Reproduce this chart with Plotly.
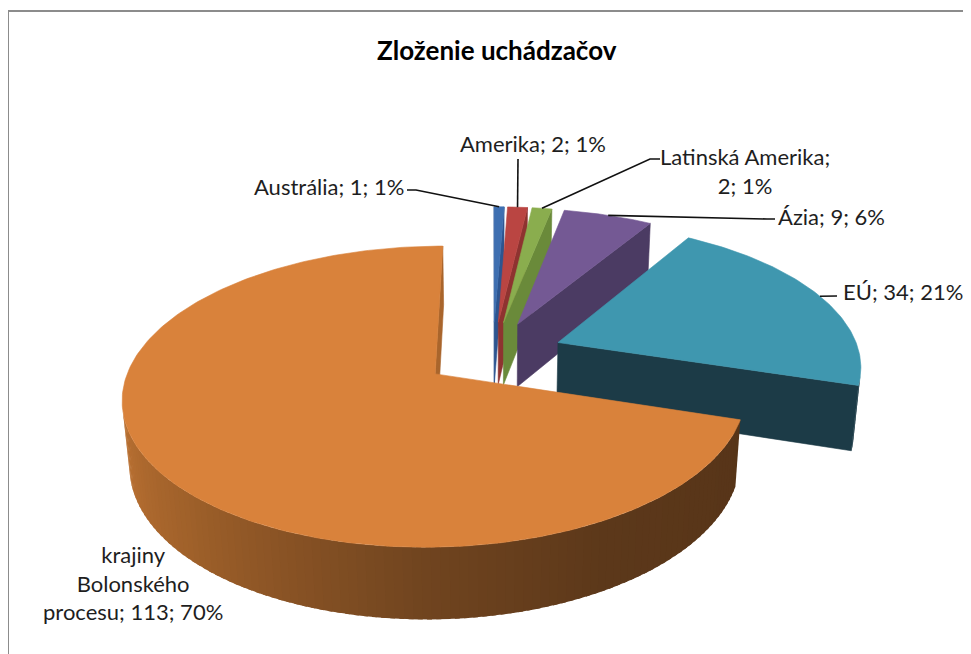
import numpy as np
import plotly.graph_objects as go

# ---------------- data ----------------
categories = ["Austrália", "Amerika", "Latinská Amerika", "Ázia", "EÚ",
              "krajiny Bolonského procesu"]
values = [1, 2, 2, 9, 34, 113]
label_names = ["Austrália", "Amerika", "Latinská Amerika", "Ázia", "EÚ",
               "krajiny<br>Bolonského<br>procesu"]
label_breaks = [" ", " ", "<br>", " ", " ", " "]
title_text = "Zloženie uchádzačov"

# ---------------- style ----------------
top_colors = ["#3E6FB1", "#BA4542", "#8AAD4E", "#745994", "#3F97AF", "#D9823B"]
side_colors = ["#2D5590", "#8E3330", "#6A8A3A", "#4B3B63", "#1C3B47", "#A9652C"]
orange_wall_stops = [(100, (86, 52, 24)), (150, (92, 56, 26)), (180, (112, 68, 31)),
                     (225, (160, 97, 42)), (270, (198, 120, 54))]

# 3D projection parameters (pixel space)
CX, CY, K = 493.0, 354.0, 301.7
S_PHI, C_PHI = 0.468, 0.884
DIST = 5.97
THICK = 0.244
EXPLODE = 0.233
CAM = np.array([0.0, -DIST * C_PHI, DIST * S_PHI])

PAGE_OFF = 8  # browser body margin


def project(X, Y, Z):
    up = Y * S_PHI + Z * C_PHI
    depth = Y * C_PHI - Z * S_PHI
    sc = 1.0 / (1.0 + depth / DIST)
    return CX + K * X * sc, CY - K * up * sc


def visible(normal, point):
    return float(np.dot(normal, CAM - np.asarray(point))) > 0


def wall_color(theta, idx):
    if idx != 5:
        return side_colors[idx]
    t = theta % 360
    angs = [a for a, _ in orange_wall_stops]
    cols = np.array([c for _, c in orange_wall_stops], dtype=float)
    rgb = [np.interp(t, angs, cols[:, k]) for k in range(3)]
    return "rgb(%d,%d,%d)" % tuple(int(round(v)) for v in rgb)


total = float(sum(values))
fracs = [v / total for v in values]
cum = np.concatenate([[0.0], np.cumsum(fracs)]) * 360.0

fig = go.Figure()


def add_poly(pts3d, color, lw=0.6):
    xs, ys = [], []
    for X, Y, Z in pts3d:
        x, y = project(X, Y, Z)
        xs.append(x)
        ys.append(y)
    xs.append(xs[0])
    ys.append(ys[0])
    fig.add_trace(go.Scatter(x=xs, y=ys, mode="lines", fill="toself",
                             fillcolor=color,
                             line=dict(color=color, width=lw),
                             hoverinfo="skip", showlegend=False))


slices = []
for i, v in enumerate(values):
    a0, a1 = cum[i], cum[i + 1]
    m = 0.5 * (a0 + a1)
    mr = np.radians(m)
    ox, oy = EXPLODE * np.sin(mr), EXPLODE * np.cos(mr)
    cy_ = oy + 0.5 * np.cos(mr) * (1 if (a1 - a0) < 180 else 0.2)
    slices.append((i, a0, a1, m, ox, oy, cy_))

order = sorted(slices, key=lambda s: -s[6])


def rim(ox, oy, th, z):
    r = np.radians(th)
    return (ox + np.sin(r), oy + np.cos(r), z)


for (i, a0, a1, m, ox, oy, _) in order:
    apex_t = (ox, oy, 0.0)
    apex_b = (ox, oy, -THICK)
    r0 = np.radians(a0)
    n0 = np.array([-np.cos(r0), np.sin(r0), 0.0])
    c0 = np.array(rim(ox, oy, a0, -THICK / 2)) * 0.5 + np.array([ox, oy, -THICK / 2]) * 0.5
    if visible(n0, c0):
        add_poly([apex_t, rim(ox, oy, a0, 0), rim(ox, oy, a0, -THICK), apex_b],
                 side_colors[i])
    r1 = np.radians(a1)
    n1 = np.array([np.cos(r1), -np.sin(r1), 0.0])
    c1 = np.array(rim(ox, oy, a1, -THICK / 2)) * 0.5 + np.array([ox, oy, -THICK / 2]) * 0.5
    if visible(n1, c1):
        add_poly([apex_t, rim(ox, oy, a1, 0), rim(ox, oy, a1, -THICK), apex_b],
                 side_colors[i])
    # outer wall, small overlapping segments for a smooth gradient
    step = 1.5
    nseg = max(2, int(np.ceil((a1 - a0) / step)))
    ths = np.linspace(a0, a1, nseg + 1)
    for t0, t1 in zip(ths[:-1], ths[1:]):
        tmid = 0.5 * (t0 + t1)
        tm = np.radians(tmid)
        nrm = np.array([np.sin(tm), np.cos(tm), 0.0])
        pm = rim(ox, oy, tmid, -THICK / 2)
        if visible(nrm, pm):
            te = min(t1 + 0.8, a1)
            add_poly([rim(ox, oy, t0, 0), rim(ox, oy, te, 0),
                      rim(ox, oy, te, -THICK), rim(ox, oy, t0, -THICK)],
                     wall_color(tmid, i), lw=0)
    tt = np.linspace(a0, a1, max(3, int(np.ceil((a1 - a0) / 1.0)) + 1))
    add_poly([apex_t] + [rim(ox, oy, t, 0) for t in tt], top_colors[i])

# ---------------- labels ----------------
pcts = [int(round(f * 100)) for f in fracs]
label_texts = ["%s;%s%d; %d%%" % (n, b, v, p)
               for n, b, v, p in zip(label_names, label_breaks, values, pcts)]

label_pos = [(406, 186, "right"), (533, 143, "center"), (658, 171, "left"),
             (776, 216, "left"), (841, 291, "left"), (133, 583, "center")]
leader_pts = [[(407, 190), (416, 190)], [(518, 159)], [(660, 159), (650, 159)],
              [(775, 219), (767, 219)], [(837, 296)], []]

for (i, a0, a1, m, ox, oy, _) in slices:
    if leader_pts[i]:
        rx, ry = project(*rim(ox, oy, m, 0.0))
        xs = [p[0] for p in leader_pts[i]] + [rx]
        ys = [p[1] for p in leader_pts[i]] + [ry]
        fig.add_trace(go.Scatter(x=xs, y=ys, mode="lines",
                                 line=dict(color="#111111", width=1.6),
                                 hoverinfo="skip", showlegend=False))

annotations = []
for txt, (x, y, anc) in zip(label_texts, label_pos):
    annotations.append(dict(x=x, y=y, xref="x", yref="y", text=txt,
                            showarrow=False, xanchor=anc, yanchor="middle",
                            align="center",
                            font=dict(family="Lato", size=22, color="#1e1e1e")))
annotations.append(dict(x=497, y=50, xref="x", yref="y", text="<b>%s</b>" % title_text,
                        showarrow=False, xanchor="center", yanchor="middle",
                        font=dict(family="Lato", size=26, color="#000000")))

W, H = 971, 654
fig.update_layout(
    width=W - PAGE_OFF, height=H - PAGE_OFF,
    margin=dict(l=0, r=0, t=0, b=0),
    paper_bgcolor="white", plot_bgcolor="white",
    xaxis=dict(range=[PAGE_OFF, W], visible=False, fixedrange=True),
    yaxis=dict(range=[H, PAGE_OFF], visible=False, fixedrange=True),
    annotations=annotations,
    shapes=[dict(type="rect", xref="x", yref="y", x0=8, y0=11, x1=1000, y1=700,
                 line=dict(color="#8c8c8c", width=2), layer="below")],
    showlegend=False,
)

fig.write_html("out.html")
